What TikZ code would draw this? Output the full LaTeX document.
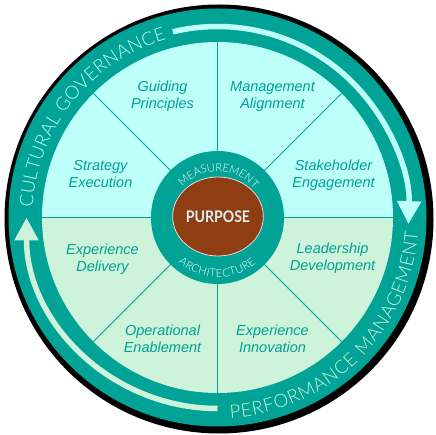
\documentclass[tikz,border=0pt]{standalone}
\usepackage{fontspec}
\usepackage{graphicx}
\setmainfont{Liberation Sans}
\newfontfamily\purposefont{Lato}
\IfFontExistsTF{Lato Light}{\newfontfamily\ringfont{Lato Light}}{\newfontfamily\ringfont{Lato}}
\usetikzlibrary{arrows.meta,decorations.text,shapes.geometric}
\definecolor{wheelteal}{HTML}{00A396}
\definecolor{labelteal}{HTML}{00A093}
\definecolor{topfill}{HTML}{BDFFF9}
\definecolor{lowfill}{HTML}{CDF3DA}
\definecolor{purposebrown}{HTML}{8F3D12}
\definecolor{purposetext}{HTML}{DDEEF0}
\begin{document}
\begin{tikzpicture}[x=1pt,y=1pt,
  lbl/.style={align=center,text=labelteal,font=\fontsize{14.5}{17}\selectfont\itshape},
  spoke/.style={draw=wheelteal,line width=0.8pt},
  ringarrow/.style={line width=5.5pt,-{Triangle[width=23pt,length=23pt]}},
  ringtext/.style={decorate,decoration={text along path,text align={fit to path},text color=#1}}]
\useasboundingbox (-217.5,-217.5) rectangle (217.5,217.5);
\fill[black] (1.5,-1.5) circle[radius=214.5];
\fill[wheelteal] (0,0) circle[radius=209];
\fill[topfill] (175.5,0) arc[start angle=0,end angle=180,radius=175.5] -- cycle;
\fill[lowfill] (-175.5,0) arc[start angle=180,end angle=360,radius=175.5] -- cycle;
\foreach \a in {0,45,...,315}
  \draw[spoke] (\a:66) -- (\a:175.5);
\fill[wheelteal] (0,0) circle[radius=66.5];
\node[ellipse,fill=purposebrown,draw=white!80!purposebrown,line width=0.8pt,minimum width=87pt,minimum height=79pt,inner sep=0pt,
  text=purposetext,font=\purposefont\bfseries\fontsize{16}{19}\selectfont] (purpose) at (0.5,1) {\scalebox{0.88}[1]{PURPOSE}};
\path[ringtext=white,decoration={text={|\ringfont\fontsize{11}{13}\selectfont|MEASUREMENT}}]
  (139:46.3) arc[start angle=139,end angle=41,radius=46.3];
\path[ringtext=white,decoration={text={|\ringfont\fontsize{11}{13}\selectfont|ARCHITECTURE}}]
  (229:59.7) arc[start angle=229,end angle=310,radius=59.7];
\node[lbl] (gp) at (-55,121) {Guiding\\Principles};
\node[lbl] (ma) at (55,121) {Management\\Alignment};
\node[lbl] (se) at (-117,43) {Strategy\\Execution};
\node[lbl] (sh) at (116,42) {Stakeholder\\Engagement};
\node[lbl] (ed) at (-115,-42) {Experience\\Delivery};
\node[lbl] (ld) at (115,-41) {Leadership\\Development};
\node[lbl] (oe) at (-55,-121) {Operational\\Enablement};
\node[lbl] (ei) at (55,-121) {Experience\\Innovation};
\draw[ringarrow,topfill] (103.5:191) arc[start angle=103.5,end angle=-2,radius=191];
\draw[ringarrow,lowfill] (270:191) arc[start angle=270,end angle=180,radius=191];
\path[ringtext=topfill,decoration={text={|\ringfont\fontsize{18.5}{20}\selectfont|CULTURAL GOVERNANCE}}]
  (177:185) arc[start angle=177,end angle=106,radius=185];
\path[ringtext=lowfill,decoration={text={|\ringfont\fontsize{18.5}{20}\selectfont|PERFORMANCE MANAGEMENT}}]
  (-86.3:201) arc[start angle=-86.3,end angle=-4,radius=201];
\end{tikzpicture}
\end{document}
